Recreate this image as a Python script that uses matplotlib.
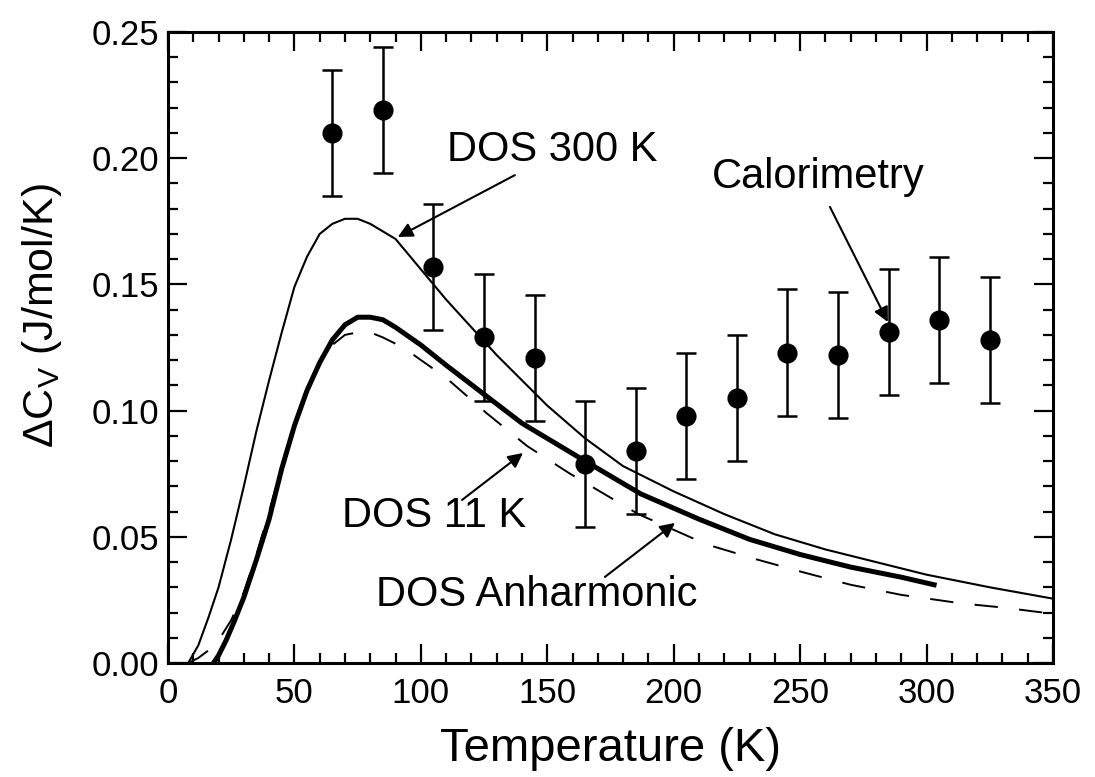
import matplotlib
matplotlib.use('Agg')
import matplotlib.pyplot as plt
from matplotlib.ticker import MultipleLocator, FormatStrFormatter

plt.rcParams['font.family'] = ['Liberation Sans', 'DejaVu Sans']
plt.rcParams['mathtext.default'] = 'regular'

# calorimetry data (T in K, delta Cv in J/mol/K)
calo_T = [65, 85, 105, 125, 145, 165, 185, 205, 225, 245, 265, 285, 305, 325]
calo_dC = [0.210, 0.219, 0.157, 0.129, 0.121, 0.079, 0.084, 0.098, 0.105,
           0.123, 0.122, 0.131, 0.136, 0.128]
calo_err = [0.025, 0.025, 0.025, 0.025, 0.025, 0.025, 0.025, 0.025, 0.025,
            0.025, 0.025, 0.025, 0.025, 0.025]

# DOS 300 K (thin solid)
T_300 = [8, 12, 16, 20, 25, 30, 35, 40, 45, 50, 55, 60, 65, 70, 75, 80, 90,
         100, 110, 120, 130, 140, 150, 165, 180, 200, 220, 240, 260, 280, 300,
         325, 350]
C_300 = [0.000, 0.007, 0.018, 0.030, 0.049, 0.070, 0.092, 0.112, 0.131, 0.149,
         0.161, 0.170, 0.174, 0.176, 0.176, 0.174, 0.168, 0.156, 0.144, 0.133,
         0.122, 0.112, 0.102, 0.089, 0.078, 0.068, 0.059, 0.051, 0.045, 0.040,
         0.035, 0.030, 0.0255]

# DOS 11 K (thick solid)
T_11 = [18, 20, 23, 26, 30, 35, 40, 45, 50, 55, 60, 65, 70, 75, 80, 85, 90,
        100, 110, 123, 140, 165, 187, 210, 230, 250, 270, 290, 303]
C_11 = [0.000, 0.003, 0.009, 0.016, 0.026, 0.041, 0.057, 0.077, 0.094, 0.108,
        0.119, 0.128, 0.134, 0.137, 0.137, 0.136, 0.133, 0.126, 0.118, 0.108,
        0.095, 0.080, 0.067, 0.057, 0.049, 0.043, 0.038, 0.034, 0.031]

# DOS anharmonic (dashed)
T_anh = [8, 12, 16, 20, 25, 30, 35, 40, 45, 50, 55, 60, 65, 70, 75, 80, 85,
         93, 110, 126, 142, 159, 186, 213, 233, 251, 270, 290, 314, 330, 350]
C_anh = [0.000, 0.002, 0.005, 0.009, 0.017, 0.028, 0.043, 0.060, 0.078, 0.095,
         0.109, 0.119, 0.126, 0.130, 0.131, 0.131, 0.129, 0.125, 0.113, 0.099,
         0.086, 0.075, 0.059, 0.047, 0.041, 0.036, 0.031, 0.027, 0.0236, 0.022,
         0.0195]

fig = plt.figure(figsize=(10.95, 7.77), dpi=100)
ax = fig.add_axes([0.1534, 0.1467, 0.8082, 0.8121])

ax.plot(T_300, C_300, color='black', lw=1.5)
ax.plot(T_11, C_11, color='black', lw=3.6)
ax.plot(T_anh, C_anh, color='black', lw=1.4, dashes=(12, 11))

ax.errorbar(calo_T, calo_dC, yerr=calo_err, fmt='o', color='black',
            markersize=13.5, elinewidth=1.8, capsize=7, capthick=1.8, zorder=5)

# labels with arrows
txt = dict(fontsize=30, ha='center', va='center')
ax.text(151.8, 0.2033, 'DOS 300 K', **txt)
ax.text(257, 0.1926, 'Calorimetry', **txt)
ax.text(105.2, 0.0582, 'DOS 11 K', **txt)
ax.text(145.9, 0.0269, 'DOS Anharmonic', **txt)

arr = dict(arrowstyle='-|>', color='black', lw=1.5, mutation_scale=22,
           shrinkA=0, shrinkB=0)
ax.annotate('', xy=(90.9, 0.1688), xytext=(137.2, 0.1933), arrowprops=arr)
ax.annotate('', xy=(284.7, 0.1351), xytext=(261.8, 0.1807), arrowprops=arr)
ax.annotate('', xy=(140.4, 0.0832), xytext=(116.3, 0.0646), arrowprops=arr)
ax.annotate('', xy=(200.5, 0.0555), xytext=(172.8, 0.0341), arrowprops=arr)

ax.set_xlim(0, 350)
ax.set_ylim(0, 0.25)
ax.xaxis.set_major_locator(MultipleLocator(50))
ax.xaxis.set_minor_locator(MultipleLocator(10))
ax.yaxis.set_major_locator(MultipleLocator(0.05))
ax.yaxis.set_minor_locator(MultipleLocator(0.01))
ax.yaxis.set_major_formatter(FormatStrFormatter('%.2f'))

ax.tick_params(which='both', direction='in', top=True, right=True,
               labelsize=25, width=1.6)
ax.tick_params(which='major', length=14)
ax.tick_params(which='minor', length=7)
ax.tick_params(axis='x', pad=10)
ax.tick_params(axis='y', pad=6)
for s in ax.spines.values():
    s.set_linewidth(2.2)

ax.set_xlabel('Temperature (K)', fontsize=34, labelpad=12)
ax.set_ylabel(r'$\Delta$C$_{V}$ (J/mol/K)', fontsize=31)
ax.yaxis.set_label_coords(-0.118, 0.55)

fig.savefig('out.png', dpi=100)
